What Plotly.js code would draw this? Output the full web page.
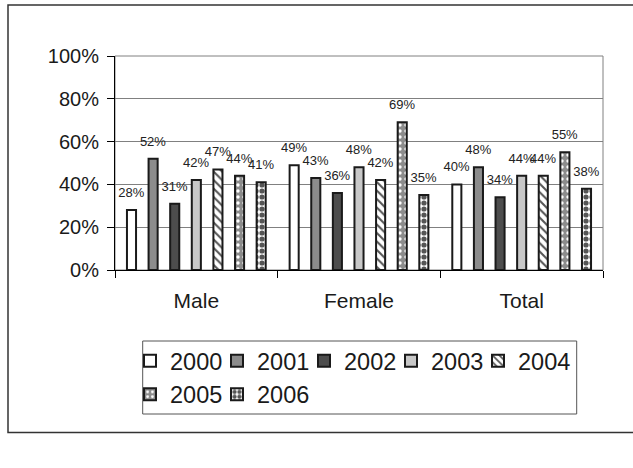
<!DOCTYPE html>
<html>
<head>
<meta charset="utf-8">
<script src="https://cdn.plot.ly/plotly-3.0.1.min.js"></script>
<style>html,body{margin:0;padding:0;background:#fff;}#chart{width:633px;height:468px;}</style>
</head>
<body>
<div id="chart"></div>
<script>
var categories = ["Male", "Female", "Total"];
var years = ["2000", "2001", "2002", "2003", "2004", "2005", "2006"];
var v2000 = [28, 49, 40];
var v2001 = [52, 43, 48];
var v2002 = [31, 36, 34];
var v2003 = [42, 48, 44];
var v2004 = [47, 42, 44];
var v2005 = [44, 69, 55];
var v2006 = [41, 35, 38];
var yTicks = [0, 20, 40, 60, 80, 100];
var yTickText = ["0%", "20%", "40%", "60%", "80%", "100%"];

var seriesValues = [v2000, v2001, v2002, v2003, v2004, v2005, v2006];
var fills = ["#ffffff", "#8c8c8c", "#4d4d4d", "#c8c8c8", "#ffffff", "#8c8c8c", "#ffffff"];
var patterns = [
  null, null, null, null,
  {shape: "\\", fgcolor: "#555555", bgcolor: "#ffffff", size: 6, solidity: 0.35},
  {shape: ".", fgcolor: "#ffffff", bgcolor: "#8c8c8c", size: 6, solidity: 0.25},
  {shape: ".", fgcolor: "#555555", bgcolor: "#ffffff", size: 6, solidity: 0.6}
];

var FONT = "Liberation Sans, Arial, sans-serif";
var traces = years.map(function (yr, i) {
  var marker = {color: fills[i], line: {color: "#1a1a1a", width: 2}};
  if (patterns[i]) marker.pattern = patterns[i];
  return {
    type: "bar",
    name: yr,
    x: categories,
    y: seriesValues[i],
    text: seriesValues[i].map(function (v) { return v + "%"; }),
    marker: marker,
    texttemplate: "<span style=\"font-size:13px\">%{text}</span><br> ",
    textposition: "outside",
    constraintext: "none",
    cliponaxis: false,
    textfont: {family: FONT, size: 7, color: "#222"},
    hoverinfo: "skip"
  };
});

var L = 115, R = 603, T = 56, B = 270;
function px(x) { return (x - L) / (R - L); }
function py(y) { return (B - y) / (B - T); }

var layout = {
  width: 633, height: 468,
  margin: {l: L, r: 633 - R, t: T, b: 468 - B, pad: 0},
  paper_bgcolor: "#ffffff", plot_bgcolor: "#ffffff",
  font: {family: FONT, color: "#1a1a1a"},
  barmode: "group", bargap: 0.07, bargroupgap: 0.58,
  showlegend: true,
  xaxis: {
    type: "category", showline: true, linecolor: "#000", linewidth: 1,
    ticks: "outside", tickson: "boundaries", ticklen: 7, tickcolor: "#000",
    tickfont: {family: FONT, size: 21, color: "#1a1a1a"},
    ticklabelstandoff: 12, showgrid: false, fixedrange: true
  },
  yaxis: {
    range: [0, 100], tickvals: yTicks, ticktext: yTickText,
    showgrid: true, gridcolor: "#808080", gridwidth: 1,
    showline: true, linecolor: "#000", linewidth: 1, zeroline: false,
    ticks: "outside", ticklen: 7, tickcolor: "#000",
    tickfont: {family: FONT, size: 20, color: "#1a1a1a"},
    ticklabelstandoff: 4, fixedrange: true
  },
  legend: {
    orientation: "h", x: px(140), xanchor: "left", y: py(339), yanchor: "top",
    font: {family: FONT, size: 23.5, color: "#1a1a1a"},
    entrywidth: 52, entrywidthmode: "pixels", itemwidth: 30, indentation: -10,
    bgcolor: "rgba(0,0,0,0)", borderwidth: 0, traceorder: "normal",
    itemclick: false, itemdoubleclick: false
  },
  shapes: [
    {type: "rect", xref: "paper", yref: "paper", x0: 0, x1: 1, y0: 0, y1: 1,
     line: {color: "#808080", width: 1}, layer: "below"},
    {type: "rect", xref: "paper", yref: "paper", x0: px(8), x1: px(660), y0: py(432.5), y1: py(5),
     line: {color: "#333333", width: 1.5}, fillcolor: "rgba(0,0,0,0)"},
    {type: "rect", xref: "paper", yref: "paper", x0: px(142.7), x1: px(576.7), y0: py(414), y1: py(341),
     line: {color: "#555555", width: 1}, fillcolor: "rgba(0,0,0,0)"}
  ]
};

Plotly.newPlot("chart", traces, layout, {displayModeBar: false, staticPlot: true});
</script>
</body>
</html>
